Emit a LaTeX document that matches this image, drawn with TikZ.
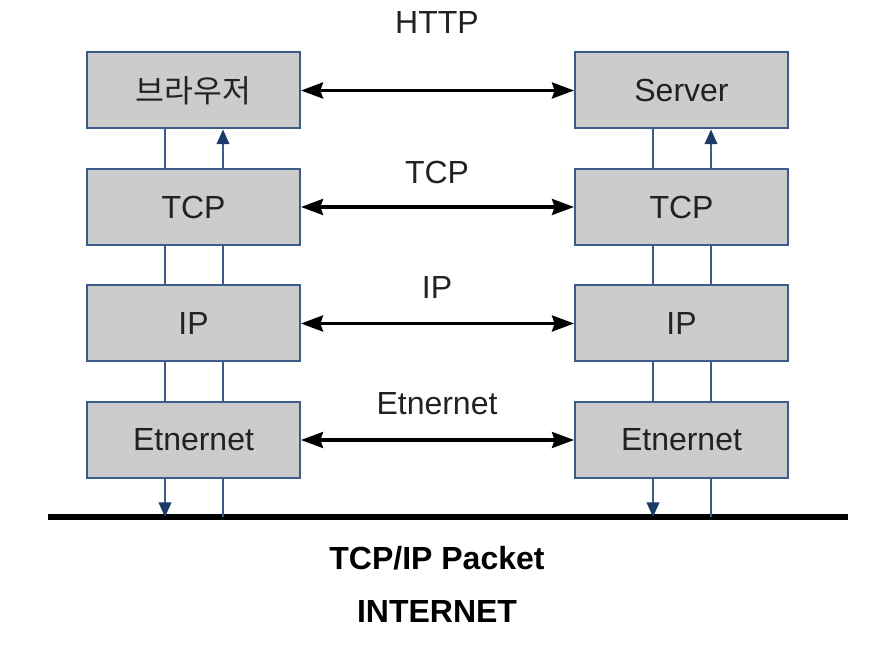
\documentclass[tikz,border=0pt]{standalone}
\usepackage{fontspec}
\setmainfont{Liberation Sans}
\newfontfamily\krfont{Noto Sans CJK KR}
\usetikzlibrary{arrows.meta}
\definecolor{boxgray}{RGB}{204,204,204}
\definecolor{boxblue}{RGB}{62,92,138}
\definecolor{linknavy}{RGB}{28,58,104}
\definecolor{textgray}{RGB}{34,34,34}

\begin{document}
\begin{tikzpicture}[x=0.75pt,y=-0.75pt,
	  layer/.style={draw=boxblue, line width=1.5pt, fill=boxgray, minimum width=159.75pt,
	    minimum height=57pt, inner sep=0pt, text=textgray, font=\fontsize{24}{28}\selectfont},
	  proto/.style={text=textgray, font=\fontsize{24}{28}\selectfont},
	  peer/.style={line width=2.4pt, {Stealth[length=16.5pt,width=12pt,inset=2pt]}-{Stealth[length=16.5pt,width=12pt,inset=2pt]}},
	  link/.style={draw=boxblue, line width=1.5pt},
	  tip/.style={-{Triangle[length=11pt,width=9.5pt,color=linknavy]}}]
	  \useasboundingbox (0,0) rectangle (876,648);
	  % Stacks
	  \node [layer] (b1) at (193.5,90.5) {\krfont\fontsize{23.5}{28}\selectfont 브라우저};
	  \node [layer] (b2) at (193.5,207) {TCP};
	  \node [layer] (b3) at (193.5,323.5) {IP};
	  \node [layer] (b4) at (193.5,440) {Etnernet};
	  \node [layer] (s1) at (681.5,90.5) {Server};
	  \node [layer] (s2) at (681.5,207) {TCP};
	  \node [layer] (s3) at (681.5,323.5) {IP};
	  \node [layer] (s4) at (681.5,440) {Etnernet};
	  % Peer arrows
	  \draw [peer] (b1) -- (s1);
	  \draw [peer] (b2) -- (s2);
	  \draw [peer] (b3) -- (s3);
	  \draw [peer] (b4) -- (s4);
	  \node [proto] (httplbl) at (437,22) {HTTP};
	  \node [proto] (tcplbl) at (437,172) {TCP};
	  \node [proto] (iplbl) at (437,287) {IP};
	  \node [proto] (ethlbl) at (437,404) {Etnernet};
	  % Wire
	  \coordinate (w) at (48,517);
	  \coordinate (e) at (848,517);
	  \draw [line width=4.2pt] (w) -- (e);
	  \coordinate (la) at (165,0);
	  \coordinate (lb) at (223,0);
	  \coordinate (ra) at (653,0);
	  \coordinate (rb) at (711,0);
	  % Down and up
	  \draw [link] (b1.south -| la) -- (b2.north -| la);
	  \draw [link, tip] (b2.north -| lb) -- (b1.south -| lb);
	  \draw [link] (s1.south -| ra) -- (s2.north -| ra);
	  \draw [link, tip] (s2.north -| rb) -- (s1.south -| rb);
	  \draw [link] (b2.south -| la) -- (b3.north -| la);
	  \draw [link] (b2.south -| lb) -- (b3.north -| lb);
	  \draw [link] (s2.south -| ra) -- (s3.north -| ra);
	  \draw [link] (s2.south -| rb) -- (s3.north -| rb);
	  \draw [link] (b3.south -| la) -- (b4.north -| la);
	  \draw [link] (b3.south -| lb) -- (b4.north -| lb);
	  \draw [link] (s3.south -| ra) -- (s4.north -| ra);
	  \draw [link] (s3.south -| rb) -- (s4.north -| rb);
	  \draw [link, tip] (b4.south -| la) -- (w -| la);
	  \draw [link] (b4.south -| lb) -- (w -| lb);
	  \draw [link, tip] (s4.south -| ra) -- (w -| ra);
	  \draw [link] (s4.south -| rb) -- (w -| rb);
	  % Bottom text
	  \node [proto, font=\fontsize{24}{28}\selectfont\bfseries, text=black] (pktlbl) at (437,558) {TCP/IP Packet};
	  \node [proto, font=\fontsize{24}{28}\selectfont\bfseries, text=black] (netlbl) at (437,611) {INTERNET};
	 \end{tikzpicture}
\end{document}
